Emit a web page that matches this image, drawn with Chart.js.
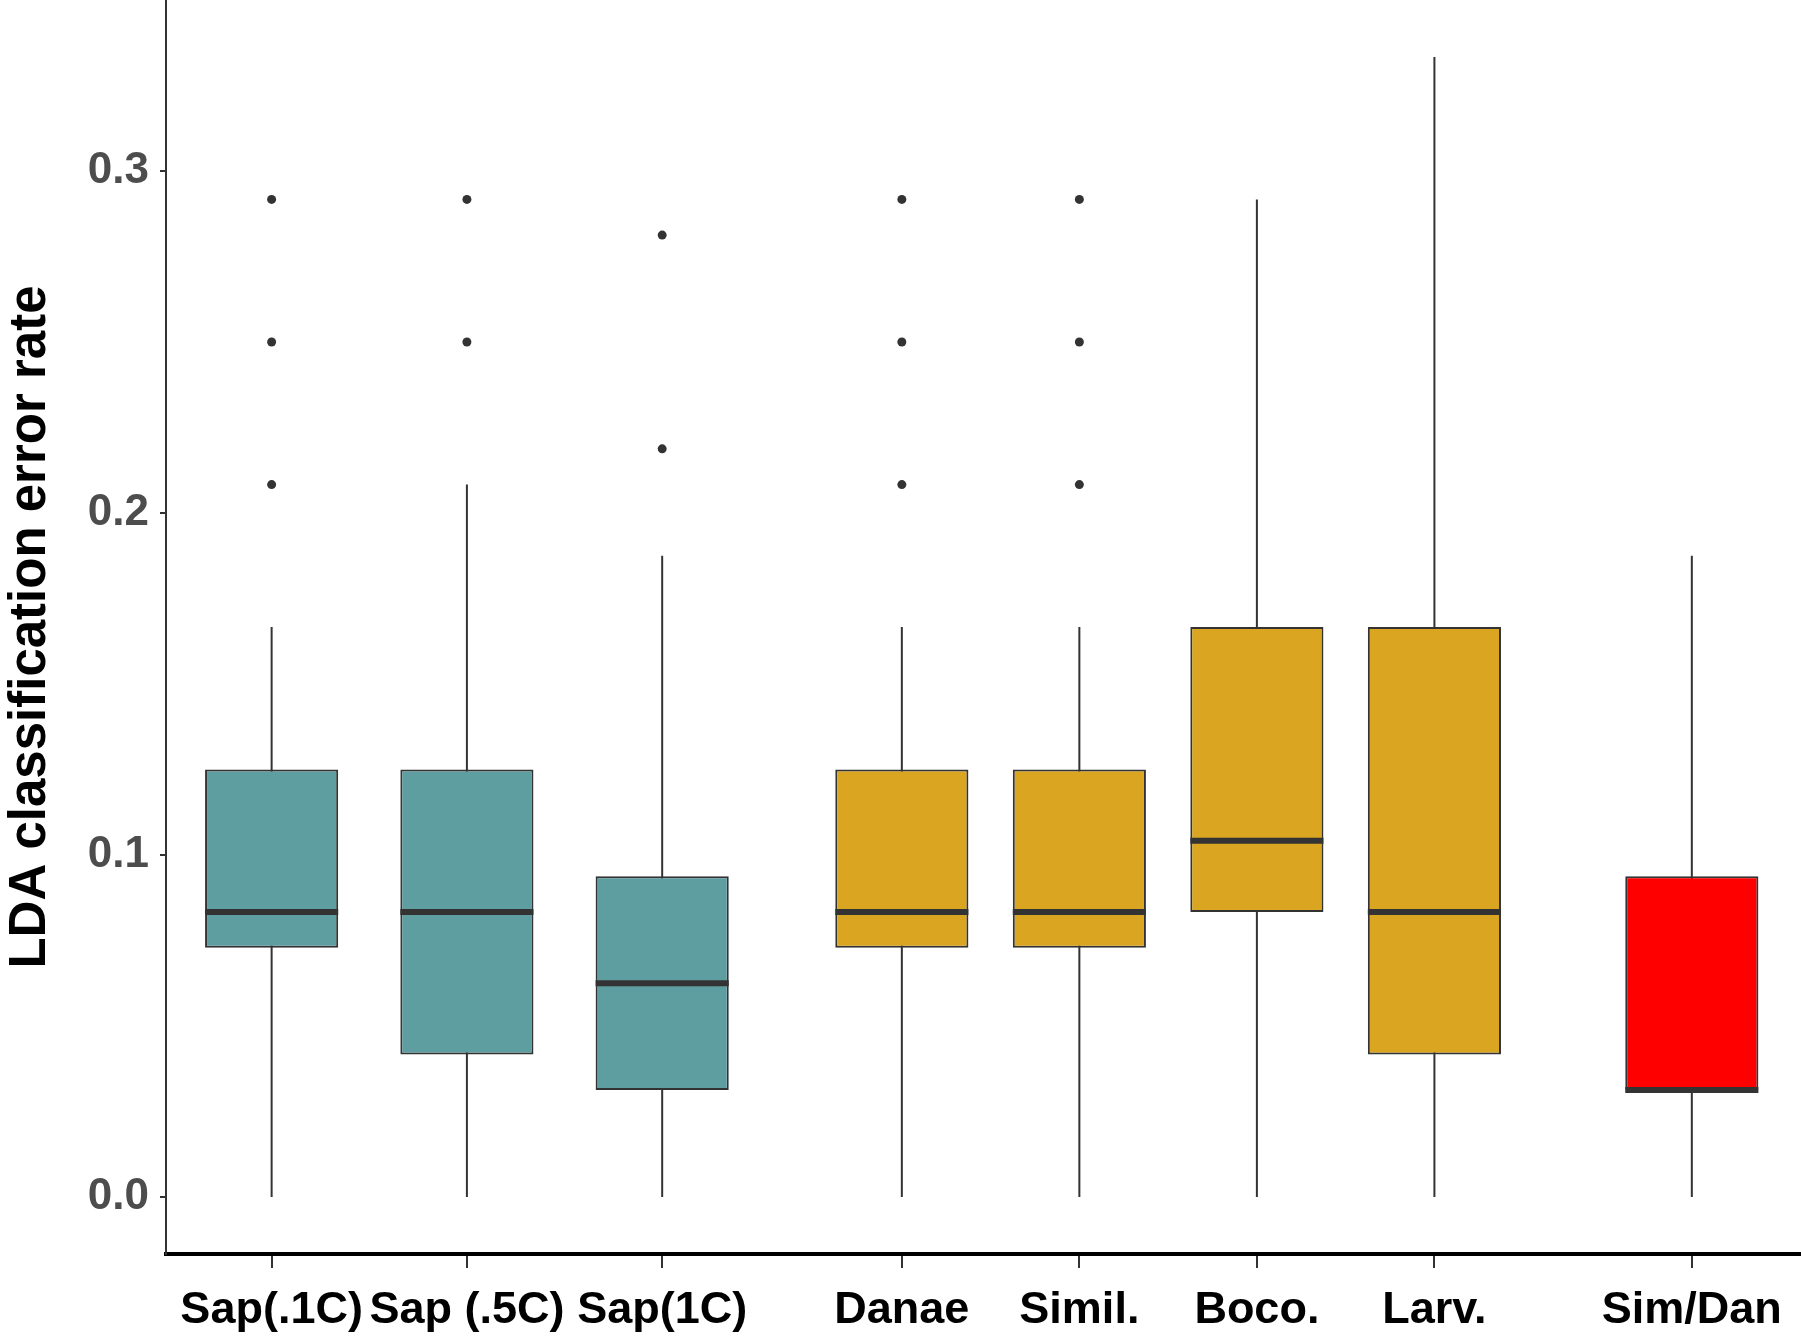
<!DOCTYPE html>
<html>
<head>
<meta charset="utf-8">
<script src="https://cdn.jsdelivr.net/npm/chart.js@4/dist/chart.umd.min.js"></script>
<style>
  html, body { margin: 0; padding: 0; background: #fff; }
  #wrap { width: 1801px; height: 1336px; }
</style>
</head>
<body>
<div id="wrap"><canvas id="chart" width="1801" height="1336"></canvas></div>
<script>
// group labels and their x positions (ggplot units)
const groups = ['Sap(.1C)', 'Sap (.5C)', 'Sap(1C)', 'Danae', 'Simil.', 'Boco.', 'Larv.', 'Sim/Dan'];
const positions = [1, 2.1, 3.2, 4.55, 5.55, 6.55, 7.55, 9];

// box statistics
const whiskerLow = [0, 0, 0, 0, 0, 0, 0, 0];
const q1 = [0.0729, 0.0417, 0.03125, 0.0729, 0.0729, 0.0833, 0.0417, 0.03125];
const median = [0.0833, 0.0833, 0.0625, 0.0833, 0.0833, 0.1042, 0.0833, 0.03125];
const q3 = [0.125, 0.125, 0.09375, 0.125, 0.125, 0.1667, 0.1667, 0.09375];
const whiskerHigh = [0.1667, 0.2083, 0.1875, 0.1667, 0.1667, 0.2917, 0.3333, 0.1875];
const outliers = [
  [0.2083, 0.25, 0.2917],
  [0.25, 0.2917],
  [0.21875, 0.28125],
  [0.2083, 0.25, 0.2917],
  [0.2083, 0.25, 0.2917],
  [],
  [],
  [],
];

const yTicks = [0, 0.1, 0.2, 0.3];

const TEAL = '#5F9EA0';
const GOLD = '#DAA520';
const RED = '#FF0000';
const groupColors = [TEAL, TEAL, TEAL, GOLD, GOLD, GOLD, GOLD, RED];
const INK = '#333333';
const BOX_WIDTH = 0.75;

// whisker segments, separated by gaps
const whiskerData = [];
positions.forEach((x, i) => {
  whiskerData.push({ x, y: whiskerLow[i] });
  whiskerData.push({ x, y: whiskerHigh[i] });
  whiskerData.push({ x, y: null });
});

const outlierData = [];
outliers.forEach((vals, i) => {
  vals.forEach((v) => outlierData.push({ x: positions[i], y: v }));
});

const halfBoxPx = (ctx) => {
  const s = ctx.chart.scales.x;
  const r = Math.abs(s.getPixelForValue(BOX_WIDTH / 2) - s.getPixelForValue(0));
  return isFinite(r) ? r : 0;
};

new Chart(document.getElementById('chart'), {
  type: 'bar',
  data: {
    datasets: [
      {
        type: 'line',
        data: whiskerData,
        borderColor: INK,
        borderWidth: 2,
        pointRadius: 0,
        spanGaps: false,
        order: 4,
      },
      {
        type: 'bar',
        data: positions.map((x, i) => ({ x, y: [q1[i], q3[i]] })),
        backgroundColor: groupColors,
        borderColor: INK,
        borderWidth: 2,
        borderSkipped: false,
        grouped: false,
        categoryPercentage: 1,
        barPercentage: BOX_WIDTH,
        order: 3,
      },
      {
        type: 'scatter',
        data: positions.map((x, i) => ({ x, y: median[i] })),
        pointStyle: 'line',
        pointRadius: halfBoxPx,
        pointHoverRadius: halfBoxPx,
        borderColor: INK,
        borderWidth: 6,
        order: 2,
      },
      {
        type: 'scatter',
        data: outlierData,
        pointRadius: 4.5,
        backgroundColor: INK,
        borderWidth: 0,
        order: 1,
      },
    ],
  },
  options: {
    responsive: false,
    devicePixelRatio: 1,
    animation: false,
    events: [],
    layout: { padding: 0, autoPadding: false },
    plugins: {
      legend: { display: false },
      tooltip: { enabled: false },
    },
    scales: {
      x: {
        type: 'linear',
        min: 0.405,
        max: 9.615,
        offset: false,
        afterBuildTicks: (scale) => {
          scale.ticks = positions.map((v) => ({ value: v }));
        },
        afterFit: (scale) => {
          scale.height = 82;
          scale.paddingLeft = 0;
          scale.paddingRight = 0;
        },
        grid: {
          display: true,
          offset: false,
          drawOnChartArea: false,
          drawTicks: true,
          tickLength: 14,
          color: INK,
          lineWidth: 2,
        },
        border: { display: true, color: '#000', width: 4 },
        ticks: {
          autoSkip: false,
          maxRotation: 0,
          padding: 16,
          color: '#000',
          font: { family: 'Liberation Sans', size: 45, weight: 'bold' },
          callback: (v, i) => groups[i],
        },
      },
      y: {
        type: 'linear',
        min: -0.01667,
        max: 0.35,
        afterBuildTicks: (scale) => {
          scale.ticks = yTicks.map((v) => ({ value: v }));
        },
        afterFit: (scale) => {
          scale.width = 166;
          scale.paddingTop = 0;
          scale.paddingBottom = 0;
        },
        grid: {
          display: true,
          drawOnChartArea: false,
          drawTicks: true,
          tickLength: 6,
          color: INK,
          lineWidth: 2,
        },
        border: { display: true, color: INK, width: 2 },
        ticks: {
          padding: 11,
          color: '#4D4D4D',
          font: { family: 'Liberation Sans', size: 44, weight: 'bold' },
          callback: (v) => v.toFixed(1),
        },
        title: {
          display: true,
          text: 'LDA classification error rate',
          color: '#000',
          padding: { top: 0, bottom: 0 },
          font: { family: 'Liberation Sans', size: 51, weight: 'bold' },
        },
      },
    },
  },
});
</script>
</body>
</html>
